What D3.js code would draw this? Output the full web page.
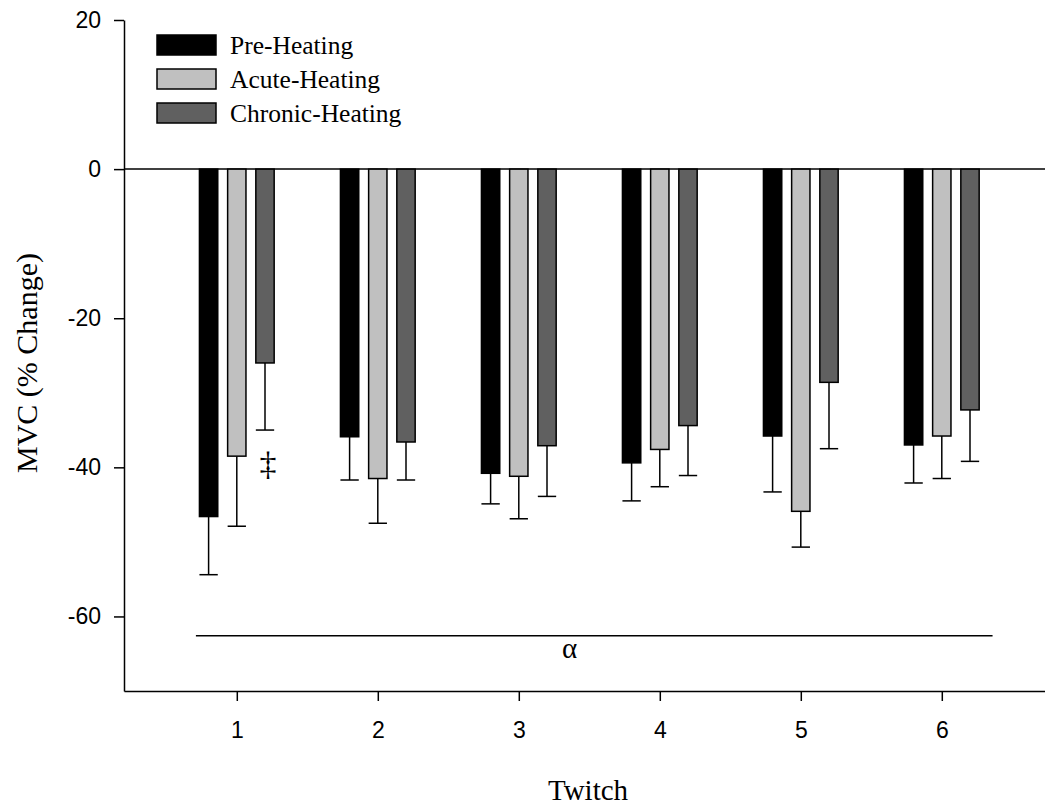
<!DOCTYPE html>
<html>
<head>
<meta charset="utf-8">
<script src="https://cdn.jsdelivr.net/npm/d3@7"></script>
<style>
  body { margin: 0; background: #fff; }
  svg { display: block; }
</style>
</head>
<body>
<svg id="chart" width="1045" height="806"></svg>
<script>
// ---- data ----
const twitches = [1, 2, 3, 4, 5, 6];
const seriesNames = ["Pre-Heating", "Acute-Heating", "Chronic-Heating"];
const preValues = [-46.6, -35.9, -40.8, -39.4, -35.8, -37.0];
const preErrors = [7.8, 5.8, 4.1, 5.1, 7.5, 5.1];
const acuteValues = [-38.5, -41.5, -41.2, -37.6, -45.9, -35.8];
const acuteErrors = [9.4, 6.0, 5.7, 5.0, 4.8, 5.7];
const chronicValues = [-26.0, -36.6, -37.1, -34.4, -28.6, -32.3];
const chronicErrors = [9.0, 5.1, 6.8, 6.7, 8.9, 6.9];
const yTickValues = [20, 0, -20, -40, -60];
const yTickLabels = ["20", "0", "-20", "-40", "-60"];
const alphaSpan = [0.71, 6.36];
const alphaLevel = -62.6;
const alphaLabelX = 3.36;
const daggerMark = { twitch: 1, series: 2, value: -39.4 };

// ---- styles ----
const colors = ["#000000", "#c0c0c0", "#606060"];
const offsets = [-0.2, 0, 0.2];
const barW = 0.13;
const serif = "'Liberation Serif', 'Times New Roman', serif";
const sans = "'Liberation Sans', Arial, sans-serif";

const svg = d3.select("#chart");
const x = d3.scaleLinear().domain([0.2, 6.8]).range([124, 1054.6]);
const y = d3.scaleLinear().domain([-70, 20]).range([691, 20]);

const series = [
  { name: seriesNames[0], values: preValues, errors: preErrors },
  { name: seriesNames[1], values: acuteValues, errors: acuteErrors },
  { name: seriesNames[2], values: chronicValues, errors: chronicErrors }
];

// zero line
svg.append("line")
  .attr("x1", x(0.2)).attr("x2", 1045)
  .attr("y1", y(0)).attr("y2", y(0))
  .attr("stroke", "#000").attr("stroke-width", 1.5);

// bars + error bars
const bw = x(barW) - x(0);
series.forEach((s, si) => {
  const g = svg.append("g");
  twitches.forEach((t, i) => {
    const cx = x(t + offsets[si]);
    const v = s.values[i];
    const e = s.errors[i];
    g.append("line")
      .attr("x1", cx).attr("x2", cx)
      .attr("y1", y(v)).attr("y2", y(v - e))
      .attr("stroke", "#000").attr("stroke-width", 1.5);
    g.append("line")
      .attr("x1", cx - bw / 2).attr("x2", cx + bw / 2)
      .attr("y1", y(v - e)).attr("y2", y(v - e))
      .attr("stroke", "#000").attr("stroke-width", 1.5);
    g.append("rect")
      .attr("x", cx - bw / 2)
      .attr("y", y(0))
      .attr("width", bw)
      .attr("height", y(v) - y(0))
      .attr("fill", colors[si])
      .attr("stroke", "#000").attr("stroke-width", 1.5);
  });
});

// axes
const yAxis = d3.axisLeft(y).tickValues(yTickValues)
  .tickFormat((d, i) => yTickLabels[i])
  .tickSize(10).tickSizeOuter(0).tickPadding(13);
const gy = svg.append("g").attr("transform", `translate(${x(0.2)},0)`).call(yAxis);
gy.selectAll("text").attr("font-family", sans).attr("font-size", 23).attr("fill", "#000");
gy.selectAll("line, path").attr("stroke", "#000").attr("stroke-width", 1.5);

const xAxis = d3.axisBottom(x).tickValues(twitches).tickFormat(d3.format("d"))
  .tickSize(10).tickSizeOuter(0).tickPadding(21);
const gx = svg.append("g").attr("transform", `translate(0,${y(-70)})`).call(xAxis);
gx.selectAll("text").attr("font-family", sans).attr("font-size", 23).attr("fill", "#000");
gx.selectAll("line, path").attr("stroke", "#000").attr("stroke-width", 1.5);

// significance line
svg.append("line")
  .attr("x1", x(alphaSpan[0])).attr("x2", x(alphaSpan[1]))
  .attr("y1", y(alphaLevel)).attr("y2", y(alphaLevel))
  .attr("stroke", "#000").attr("stroke-width", 1.5);
svg.append("text")
  .attr("x", x(alphaLabelX)).attr("y", y(alphaLevel) + 22)
  .attr("text-anchor", "middle")
  .attr("font-family", serif)
  .attr("font-size", 29)
  .attr("fill", "#000")
  .text("α");

// double dagger
svg.append("text")
  .attr("x", x(daggerMark.twitch + offsets[daggerMark.series]) + 3)
  .attr("y", y(daggerMark.value) + 12)
  .attr("text-anchor", "middle")
  .attr("font-family", serif)
  .attr("font-size", 34)
  .attr("fill", "#000")
  .text("‡");

// legend
const legend = svg.append("g");
series.forEach((s, si) => {
  const ly = 35 + si * 34;
  legend.append("rect")
    .attr("x", 157).attr("y", ly)
    .attr("width", 59).attr("height", 20)
    .attr("fill", colors[si]).attr("stroke", "#000").attr("stroke-width", 1.5);
  legend.append("text")
    .attr("x", 230).attr("y", ly + 19)
    .attr("font-family", serif)
    .attr("font-size", 25.5)
    .attr("fill", "#000")
    .text(s.name);
});

// axis titles
svg.append("text")
  .attr("transform", "translate(37,363) rotate(-90)")
  .attr("text-anchor", "middle")
  .attr("font-family", serif)
  .attr("font-size", 30)
  .attr("fill", "#000")
  .text("MVC (% Change)");
svg.append("text")
  .attr("x", 588).attr("y", 800)
  .attr("text-anchor", "middle")
  .attr("font-family", serif)
  .attr("font-size", 29)
  .attr("fill", "#000")
  .text("Twitch");
</script>
</body>
</html>
